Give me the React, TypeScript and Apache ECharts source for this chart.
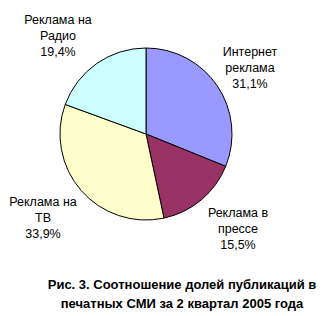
import React, { useEffect, useRef } from "react";
import * as echarts from "echarts";

const categories = ["Интернет\nреклама", "Реклама в\nпрессе", "Реклама на\nТВ", "Реклама на\nРадио"];
const values = [31.1, 15.5, 33.9, 19.4];
const colors = ["#9999FF", "#993366", "#FFFFCC", "#CCFFFF"];
const titleText = "Рис. 3. Соотношение долей публикаций в\nпечатных СМИ за 2 квартал 2005 года";

// label anchor positions (centre of each label block)
const labelPos = [
  [250, 68],
  [238, 229],
  [43, 218],
  [58, 36],
];

export default function App() {
  const ref = useRef<HTMLDivElement>(null);
  useEffect(() => {
    document.body.style.margin = "0";
    const chart = echarts.init(ref.current!, null, { renderer: "svg" });
    chart.setOption({
      animation: false,
      backgroundColor: "#ffffff",
      title: {
        text: titleText,
        left: 177,
        top: 270,
        textAlign: "center",
        textStyle: {
          fontFamily: "Liberation Sans",
          fontSize: 13,
          fontWeight: "bold",
          color: "#000",
          lineHeight: 19,
        },
      },
      series: [
        {
          type: "pie",
          center: [146, 134],
          radius: 86,
          startAngle: 90,
          clockwise: true,
          data: categories.map((c, i) => ({
            name: c,
            value: values[i],
            itemStyle: { color: colors[i] },
          })),
          itemStyle: { borderColor: "#000", borderWidth: 1 },
          label: {
            show: true,
            position: "outside",
            overflow: "none",
            fontFamily: "Liberation Sans",
            fontSize: 12.5,
            color: "#000",
            lineHeight: 16,
            align: "center",
            formatter: (p: any) =>
              p.name + "\n" + (p.value as number).toFixed(1).replace(".", ",") + "%",
          },
          labelLine: { show: false },
          labelLayout: (p: any) => ({
            x: labelPos[p.dataIndex][0],
            y: labelPos[p.dataIndex][1],
            align: "center",
            verticalAlign: "middle",
          }),
          emphasis: { disabled: true },
        },
      ],
    });
    return () => chart.dispose();
  }, []);
  return <div ref={ref} style={{ width: 324, height: 316 }} />;
}
